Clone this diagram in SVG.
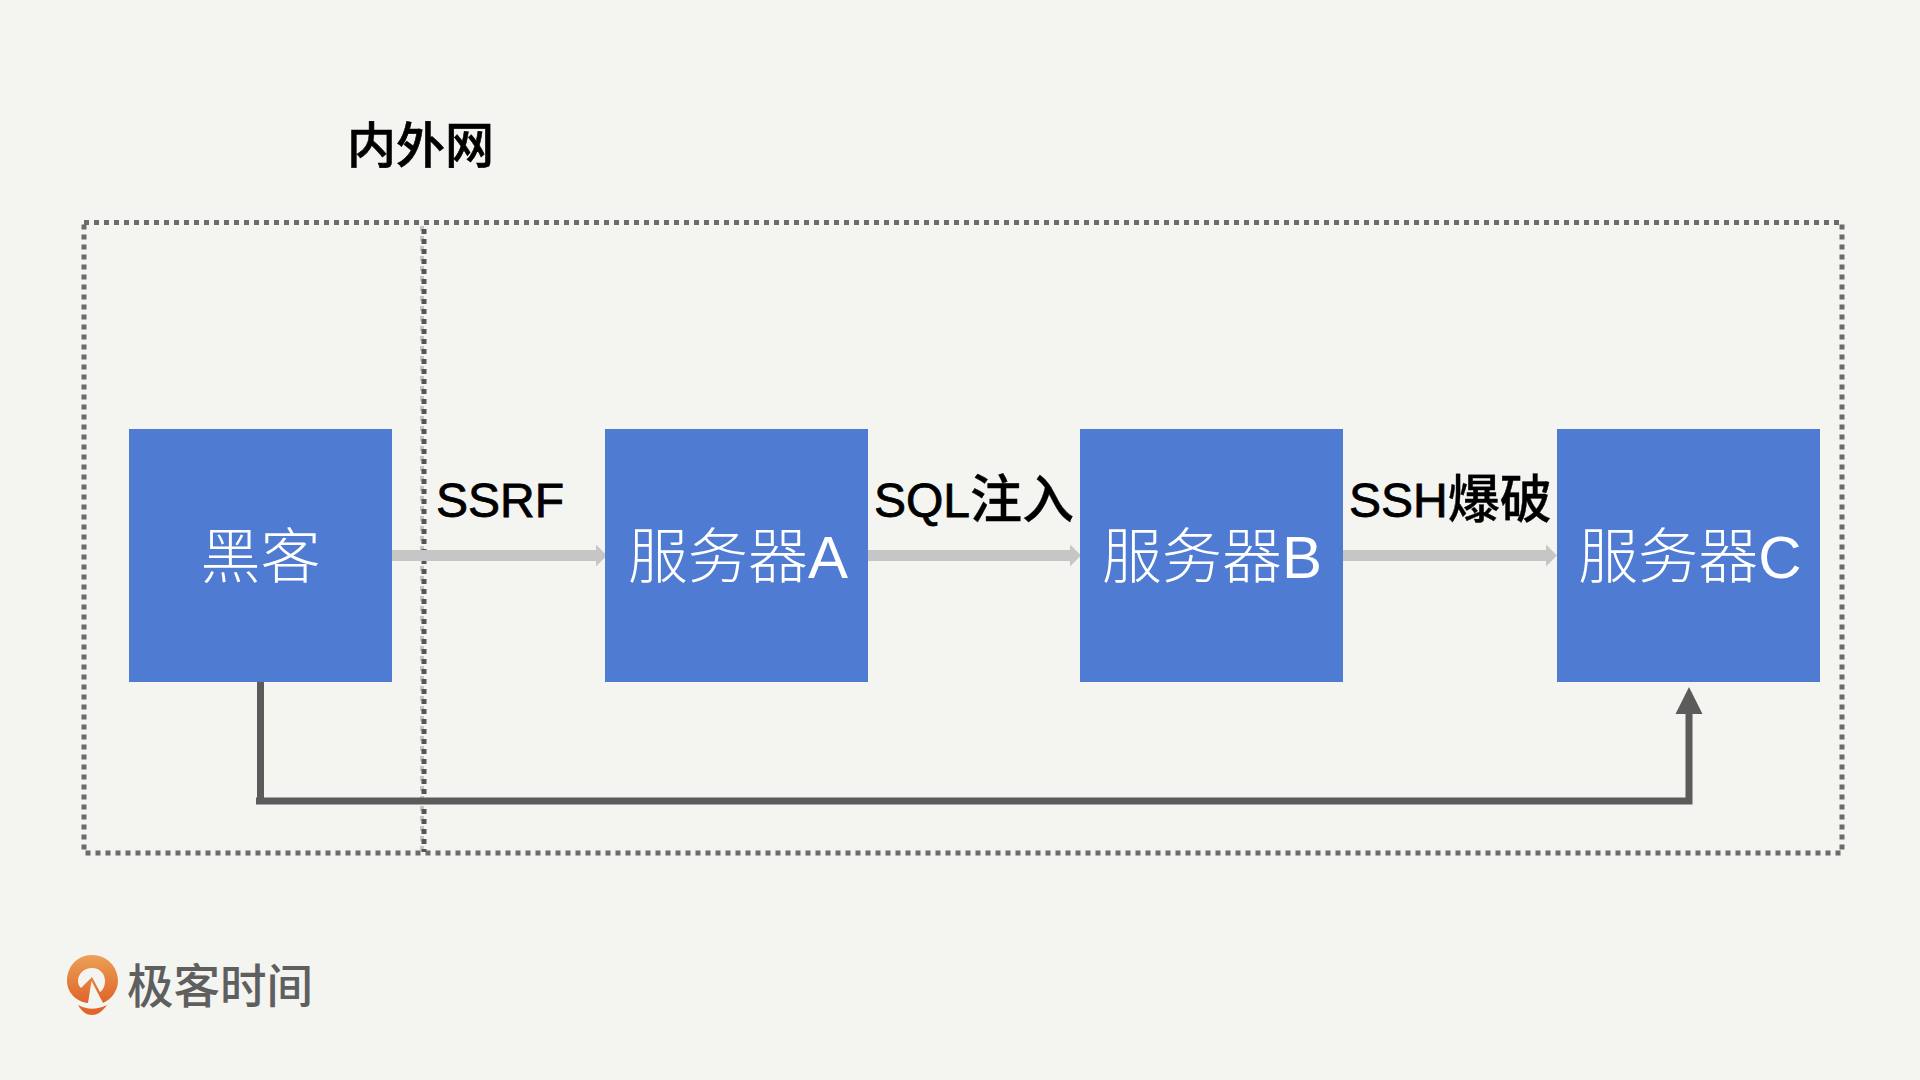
<svg xmlns="http://www.w3.org/2000/svg" width="1920" height="1080" viewBox="0 0 1920 1080">
<style>
.box{fill:#4f7cd2}
.nt{font-family:"Liberation Sans","Noto Sans CJK SC",sans-serif;font-size:60px;fill:#fff;text-anchor:middle;font-weight:300}
.lb{font-family:"Liberation Sans","Noto Sans CJK SC",sans-serif;font-size:48px;fill:#000;stroke:#000;stroke-width:.8px}
.cj{font-family:"Noto Sans CJK SC",sans-serif;font-size:52px;font-weight:500;stroke-width:.4px}
.dot{fill:none;stroke:#6b6b6b;stroke-width:5;stroke-dasharray:5 5}
.g{stroke:#c6c6c6;stroke-width:11;fill:none}
.gh{fill:#c6c6c6}
</style>
<rect width="1920" height="1080" fill="#f4f5f0"/>
<g id="frames">
<rect class="dot" x="84" y="222.500" width="1758" height="630.500"/>
<path d="M422 226V852" fill="none" stroke="#c4c4c4" stroke-width="4" stroke-dasharray="5 5"/>
<path d="M424 229V852" fill="none" stroke="#555" stroke-width="5" stroke-dasharray="5 5"/>
</g>
<text x="347" y="163" font-family="'Noto Sans CJK SC',sans-serif" font-size="49" font-weight="500" fill="#000" stroke="#000" stroke-width=".6">内外网</text>
<g id="connectors">
<path class="g" d="M392 555.500H597"/><path class="gh" d="M596 544.500L607 555.500L596 566.500Z"/>
<path class="g" d="M868 555.500H1071"/><path class="gh" d="M1070 544.500L1081 555.500L1070 566.500Z"/>
<path class="g" d="M1343 555.500H1547"/><path class="gh" d="M1546 544.500L1557 555.500L1546 566.500Z"/>
<path d="M260.500 682V801" fill="none" stroke="#5b5b5b" stroke-width="7"/>
<path d="M256 801H1689V712" fill="none" stroke="#5b5b5b" stroke-width="7"/>
<path d="M1689 687L1702.500 714H1675.500Z" fill="#5b5b5b"/>
</g>
<g id="node-hacker"><rect class="box" x="129" y="429" width="263" height="253"/><text class="nt" x="260.500" y="578">黑客</text></g>
<g id="node-a"><rect class="box" x="605" y="429" width="263" height="253"/><text class="nt" x="738" y="578">服务器A</text></g>
<g id="node-b"><rect class="box" x="1080" y="429" width="263" height="253"/><text class="nt" x="1212" y="578">服务器B</text></g>
<g id="node-c"><rect class="box" x="1557" y="429" width="263" height="253"/><text class="nt" x="1690" y="578">服务器C</text></g>
<text class="lb" x="436" y="517">SSRF</text>
<text class="lb" x="874" y="517">SQL<tspan class="cj" dy="1">注入</tspan></text>
<text class="lb" x="1349" y="517">SSH<tspan class="cj" dy="1">爆破</tspan></text>
<g id="logo">
<defs><linearGradient id="lg" x1="0" y1="0" x2="0" y2="1"><stop offset="0" stop-color="#eca057"/><stop offset="1" stop-color="#df652a"/></linearGradient></defs>
<path fill="url(#lg)" fill-rule="evenodd" d="M92 955C77 955 67 967 67 981C67 993 77 1002 88 1003L91.500 981L103 1003C112 999 118 990 118 981C118 967 107 955 92 955ZM92 968C100 968 105 974 105 981C105 986 103 990 100 992L92 977L81 988C79 986 78 984 78 981C78 974 84 968 92 968Z"/>
<path fill="#df652a" d="M78 1005C88 1010 96 1010 107 1005C102 1012 97 1015 92 1015C87 1015 82 1012 78 1005Z"/>
<text x="127" y="1003" font-family="'Noto Sans CJK SC',sans-serif" font-size="46.500" font-weight="500" fill="#5f5f5f">极客时间</text>
</g>
</svg>
